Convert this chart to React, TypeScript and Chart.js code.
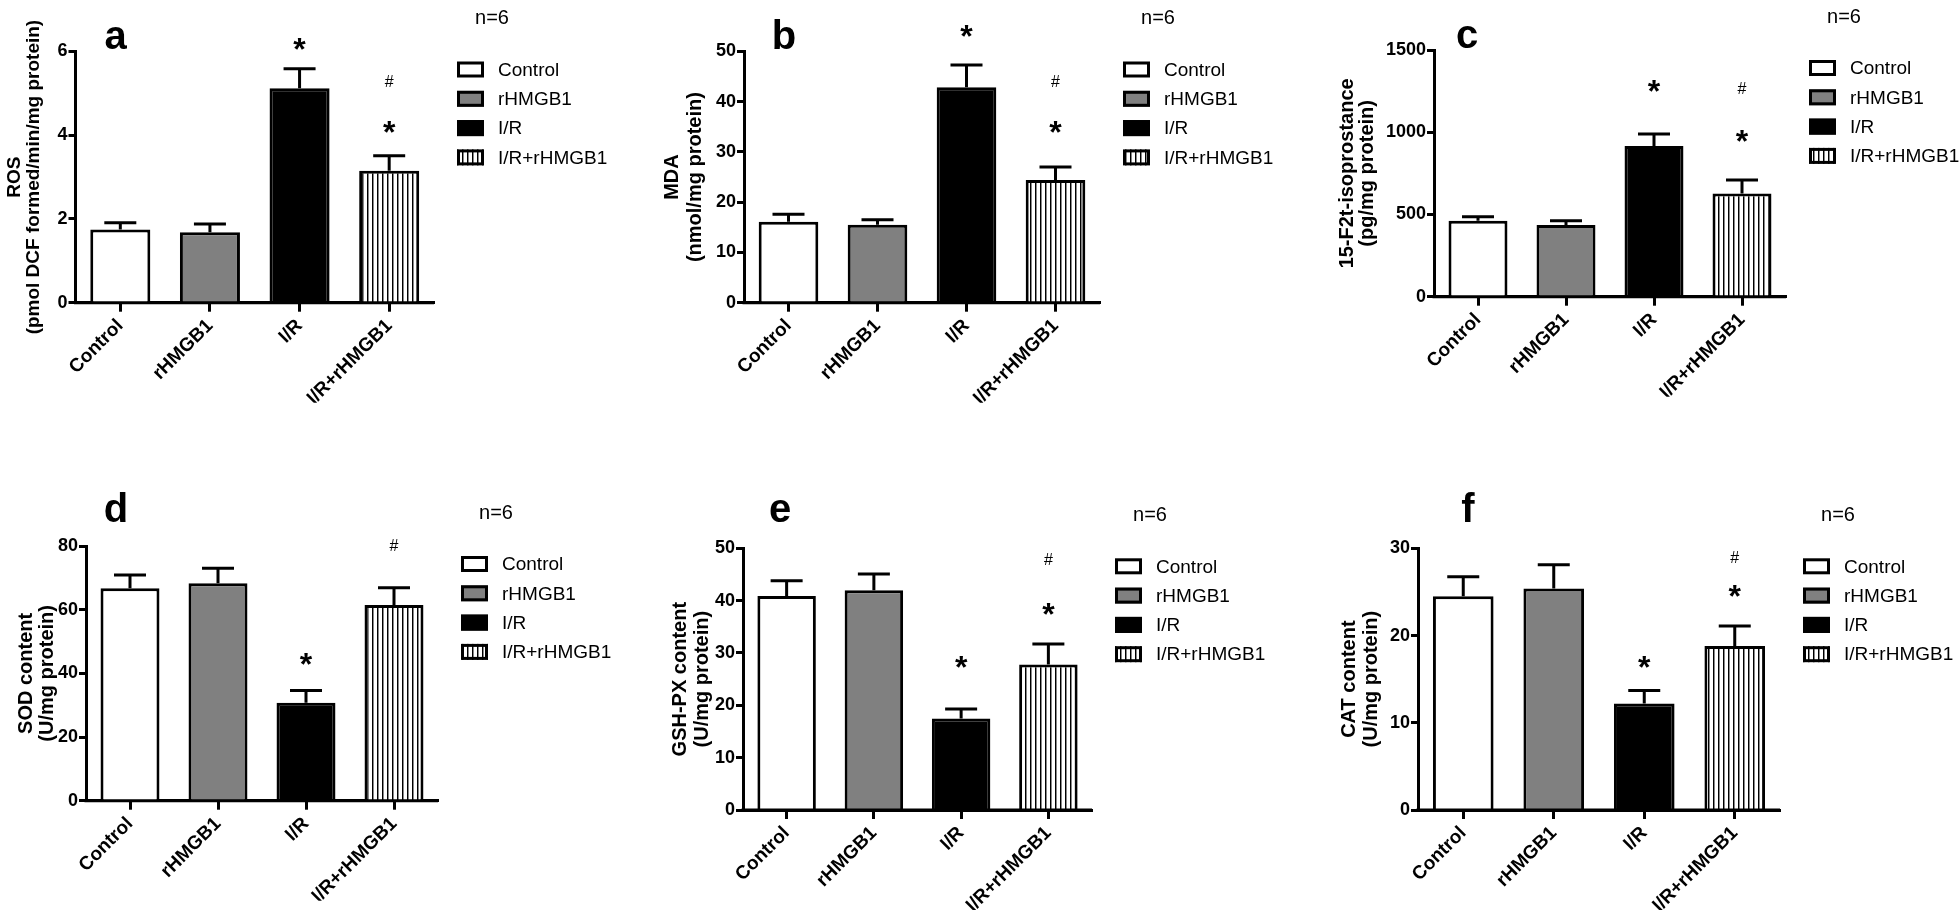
import React, { useEffect, useRef } from 'react';
import { Chart, registerables } from 'chart.js';
Chart.register(...registerables);

const FONT = '"Liberation Sans", Arial, Helvetica, sans-serif';

const categories = ['Control', 'rHMGB1', 'I/R', 'I/R+rHMGB1'];
const fillColors = ['#ffffff', '#808080', '#000000', 'stripes'];
const sampleSize = 'n=6';

// a: ROS
const rosMean = [1.75, 1.68, 5.12, 3.15];
const rosErr = [0.16, 0.2, 0.47, 0.36];
const rosStar = [null, null, 6.24, 4.25];
const rosHash = [null, null, null, 5.28];
const rosTitle = ['ROS', '(pmol DCF formed/min/mg protein)'];
const rosMax = 6;
const rosStep = 2;

// b: MDA
const mdaMean = [16.1, 15.5, 42.9, 24.4];
const mdaErr = [1.5, 1.0, 4.4, 2.6];
const mdaStar = [null, null, 54.6, 35.4];
const mdaHash = [null, null, null, 44.0];
const mdaTitle = ['MDA', '(nmol/mg protein)'];
const mdaMax = 50;
const mdaStep = 10;

// c: 15-F2t-isoprostance
const isoMean = [462, 436, 916, 628];
const isoErr = [24, 26, 73, 81];
const isoStar = [null, null, 1297, 993];
const isoHash = [null, null, null, 1267];
const isoTitle = ['15-F2t-isoprostance', '(pg/mg protein)'];
const isoMax = 1500;
const isoStep = 500;

// d: SOD
const sodMean = [66.7, 68.3, 30.8, 61.5];
const sodErr = [4.2, 4.7, 3.8, 5.4];
const sodStar = [null, null, 45.2, null];
const sodHash = [null, null, null, 80.3];
const sodTitle = ['SOD content', '(U/mg protein)'];
const sodMax = 80;
const sodStep = 20;

// e: GSH-PX
const gshMean = [40.9, 42.0, 17.5, 27.8];
const gshErr = [2.9, 3.1, 1.8, 3.9];
const gshStar = [null, null, 28.7, 38.9];
const gshHash = [null, null, null, 47.8];
const gshTitle = ['GSH-PX content', '(U/mg protein)'];
const gshMax = 50;
const gshStep = 10;

// f: CAT
const catMean = [24.5, 25.4, 12.2, 18.8];
const catErr = [2.25, 2.7, 1.5, 2.3];
const catStar = [null, null, 17.2, 25.4];
const catHash = [null, null, null, 29.0];
const catTitle = ['CAT content', '(U/mg protein)'];
const catMax = 30;
const catStep = 10;

const panels = [
  { letter: 'a', mean: rosMean, err: rosErr, star: rosStar, hash: rosHash, title: rosTitle, max: rosMax, step: rosStep,
    cellX: 0, cellY: 0, cellW: 653, cellH: 462, axisX: 75.5, top: 51.5, zero: 302.7, right: 434, titleX: 15, titleGap: 19, titleSize: 19, letterDx: 40, letterDy: -3 },
  { letter: 'b', mean: mdaMean, err: mdaErr, star: mdaStar, hash: mdaHash, title: mdaTitle, max: mdaMax, step: mdaStep,
    cellX: 653, cellY: 0, cellW: 653, cellH: 462, axisX: 744, top: 51.5, zero: 302.7, right: 1100, titleX: 672, titleGap: 23, titleSize: 20, letterDx: 40, letterDy: -3 },
  { letter: 'c', mean: isoMean, err: isoErr, star: isoStar, hash: isoHash, title: isoTitle, max: isoMax, step: isoStep,
    cellX: 1306, cellY: 0, cellW: 654, cellH: 462, axisX: 1434, top: 50, zero: 296.7, right: 1786, titleX: 1347, titleGap: 20, titleSize: 20, letterDx: 33, letterDy: -2 },
  { letter: 'd', mean: sodMean, err: sodErr, star: sodStar, hash: sodHash, title: sodTitle, max: sodMax, step: sodStep,
    cellX: 0, cellY: 462, cellW: 653, cellH: 462, axisX: 86, top: 546, zero: 800.7, right: 438, titleX: 26, titleGap: 21, titleSize: 20, letterDx: 30, letterDy: -24 },
  { letter: 'e', mean: gshMean, err: gshErr, star: gshStar, hash: gshHash, title: gshTitle, max: gshMax, step: gshStep,
    cellX: 653, cellY: 462, cellW: 653, cellH: 462, axisX: 743, top: 548.3, zero: 810, right: 1092, titleX: 680, titleGap: 22, titleSize: 20, letterDx: 37, letterDy: -26 },
  { letter: 'f', mean: catMean, err: catErr, star: catStar, hash: catHash, title: catTitle, max: catMax, step: catStep,
    cellX: 1306, cellY: 462, cellW: 654, cellH: 462, axisX: 1418, top: 548.3, zero: 810, right: 1780, titleX: 1349, titleGap: 22, titleSize: 20, letterDx: 50, letterDy: -26 },
];

function makeStripes(): CanvasPattern | string {
  const c = document.createElement('canvas');
  c.width = 5;
  c.height = 10;
  const g = c.getContext('2d');
  if (!g) return '#fff';
  g.fillStyle = '#ffffff';
  g.fillRect(0, 0, 5, 10);
  g.fillStyle = '#000000';
  g.fillRect(2, 0, 1, 10);
  g.fillStyle = '#888888';
  g.fillRect(3, 0, 1, 10);
  return g.createPattern(c, 'repeat') || '#fff';
}

function Panel(p: any) {
  const ref = useRef<HTMLCanvasElement>(null);
  useEffect(() => {
    const canvas = ref.current;
    if (!canvas) return;
    const stripes = makeStripes();
    const fill = (c: string) => (c === 'stripes' ? stripes : c);
    const W = p.axisX - p.cellX;
    const H = 100;
    const extras = {
      id: 'extras' + p.letter,
      afterDatasetsDraw(chart: any) {
        const ctx = chart.ctx;
        const ys = chart.scales.y;
        const area = chart.chartArea;
        const meta = chart.getDatasetMeta(0);
        ctx.save();
        ctx.strokeStyle = '#000';
        ctx.lineWidth = 3;
        const y0 = ys.getPixelForValue(0);
        ctx.beginPath();
        ctx.moveTo(area.left - 1.5, y0);
        ctx.lineTo(area.right, y0);
        ctx.stroke();
        meta.data.forEach((bar: any, i: number) => {
          const yt = ys.getPixelForValue(p.mean[i]);
          const ye = ys.getPixelForValue(p.mean[i] + p.err[i]);
          ctx.beginPath();
          ctx.moveTo(bar.x, yt);
          ctx.lineTo(bar.x, ye);
          ctx.moveTo(bar.x - 16, ye);
          ctx.lineTo(bar.x + 16, ye);
          ctx.stroke();
        });
        ctx.fillStyle = '#000';
        ctx.textAlign = 'center';
        ctx.textBaseline = 'alphabetic';
        meta.data.forEach((bar: any, i: number) => {
          if (p.star[i] != null) {
            ctx.font = `bold 32px ${FONT}`;
            ctx.fillText('*', bar.x, ys.getPixelForValue(p.star[i]) + 0.57 * 32);
          }
          if (p.hash[i] != null) {
            ctx.font = `16px ${FONT}`;
            ctx.fillText('#', bar.x, ys.getPixelForValue(p.hash[i]) + 0.35 * 16);
          }
        });
        ctx.restore();
      },
      afterDraw(chart: any) {
        const ctx = chart.ctx;
        const area = chart.chartArea;
        ctx.save();
        const bx = area.right + 23;
        categories.forEach((lab, i) => {
          const cy = area.top + 18 + i * 29.3;
          ctx.fillStyle = fill(fillColors[i]);
          ctx.fillRect(bx, cy - 8, 27, 16);
          ctx.strokeStyle = '#000';
          ctx.lineWidth = 3;
          ctx.strokeRect(bx + 1.5, cy - 6.5, 24, 13);
          ctx.fillStyle = '#000';
          ctx.font = `19px ${FONT}`;
          ctx.textAlign = 'left';
          ctx.textBaseline = 'middle';
          ctx.fillText(lab, bx + 41, cy + 1);
        });
        ctx.font = `20px ${FONT}`;
        ctx.textAlign = 'center';
        ctx.textBaseline = 'middle';
        ctx.fillText(sampleSize, area.right + 58, area.top - 33);
        ctx.font = `bold 40px ${FONT}`;
        ctx.textBaseline = 'alphabetic';
        ctx.fillText(p.letter, area.left + p.letterDx, area.top + p.letterDy);
        ctx.restore();
      },
    };
    const xFont = { family: FONT, size: 19, weight: 'bold' as const };
    const yFont = { family: FONT, size: 18, weight: 'bold' as const };
    const chart = new Chart(canvas, {
      type: 'bar',
      data: {
        labels: categories,
        datasets: [
          {
            data: p.mean,
            backgroundColor: fillColors.map(fill) as any,
            borderColor: '#000',
            borderWidth: 3,
            barPercentage: 0.67,
            categoryPercentage: 1,
          },
        ],
      },
      options: {
        responsive: false,
        animation: false,
        devicePixelRatio: 1,
        layout: {
          padding: {
            left: 0,
            top: p.top - p.cellY,
            right: p.cellX + p.cellW - p.right,
            bottom: p.cellY + p.cellH - p.zero - H,
          },
        },
        plugins: { legend: { display: false }, tooltip: { enabled: false } },
        scales: {
          x: {
            type: 'category',
            offset: true,
            grid: { offset: false, drawOnChartArea: false, tickLength: 9, tickWidth: 3, tickColor: '#000' },
            border: { color: '#000', width: 3 },
            ticks: { color: '#000', font: xFont, maxRotation: 45, minRotation: 45, padding: 3, autoSkip: false },
            afterFit: (s: any) => {
              s.height = H;
            },
          },
          y: {
            min: 0,
            max: p.max,
            ticks: { stepSize: p.step, color: '#000', font: yFont, padding: 1, callback: (v: any) => String(v) },
            grid: { drawOnChartArea: false, tickLength: 7, tickWidth: 3, tickColor: '#000' },
            border: { color: '#000', width: 3 },
            title: {
              display: true,
              text: p.title,
              color: '#000',
              font: { family: FONT, size: p.titleSize, weight: 'bold', lineHeight: p.titleGap / p.titleSize },
              padding: { top: p.titleX - p.cellX - p.titleGap / 2, bottom: 0 },
            },
            afterFit: (s: any) => {
              s.width = W;
            },
          },
        },
      } as any,
      plugins: [extras],
    });
    return () => chart.destroy();
  }, []);
  return (
    <canvas
      ref={ref}
      width={p.cellW}
      height={p.cellH}
      style={{ position: 'absolute', left: p.cellX, top: p.cellY, width: p.cellW, height: p.cellH }}
    />
  );
}

export default function App() {
  return (
    <div style={{ position: 'absolute', left: 0, top: 0, width: 1960, height: 924, background: '#ffffff' }}>
      {panels.map((p) => (
        <Panel key={p.letter} {...p} />
      ))}
    </div>
  );
}
